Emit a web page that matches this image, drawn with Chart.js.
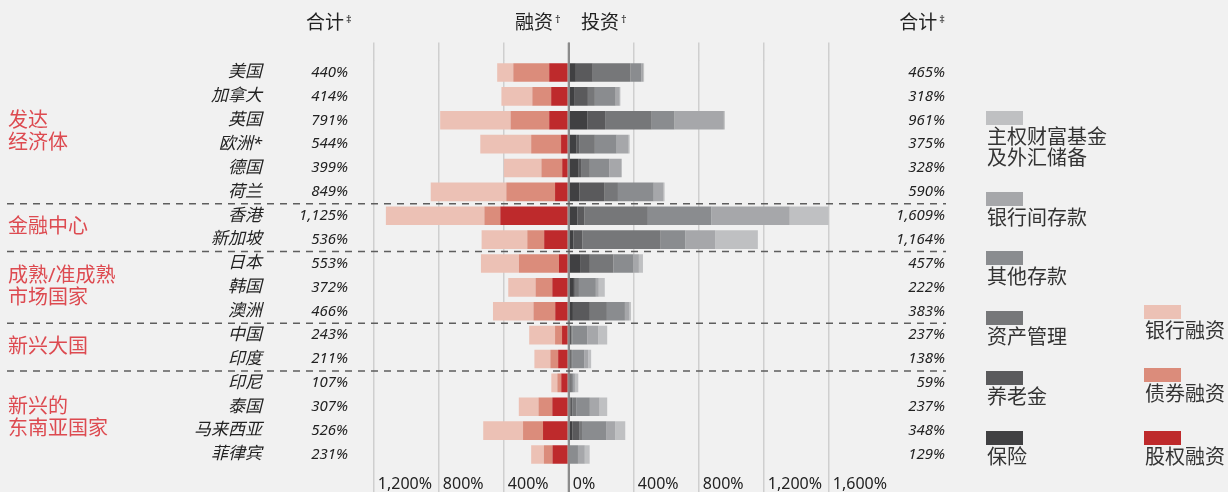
<!DOCTYPE html>
<html>
<head>
<meta charset="utf-8">
<script src="https://cdn.jsdelivr.net/npm/chart.js@4.4.1/dist/chart.umd.min.js"></script>
<style>
html,body{margin:0;padding:0;background:#F1F1F1;}
#wrap{width:1228px;height:492px;position:relative;}
</style>
</head>
<body>
<div id="wrap"><canvas id="c" width="1228" height="492"></canvas></div>
<script>
const FONT = "'Noto Sans', 'Noto Sans CJK SC', sans-serif";

// ---- data ----
const categories = ['美国','加拿大','英国','欧洲*','德国','荷兰','香港','新加坡','日本','韩国','澳洲','中国','印度','印尼','泰国','马来西亚','菲律宾'];
const financeTotals = ['440%','414%','791%','544%','399%','849%','1,125%','536%','553%','372%','466%','243%','211%','107%','307%','526%','231%'];
const investTotals = ['465%','318%','961%','375%','328%','590%','1,609%','1,164%','457%','222%','383%','237%','138%','59%','237%','348%','129%'];

// financing (drawn to the left)
const equityFin = [120,108,120,47,40,84,421,151,60,101,83,41,65,46,101,158,100];
const bondFin   = [221,116,238,184,128,300,98,104,246,103,134,43,48,24,85,123,53];
const bankFin   = [99,190,433,313,231,465,606,281,234,168,249,159,98,37,121,245,78];

// investment (drawn to the right)
const insurance     = [44,33,114,46,58,65,53,29,70,32,26,8,12,5,10,22,0];
const pension       = [104,85,110,18,18,153,43,55,60,6,104,8,3,0,12,42,0];
const assetMgmt     = [231,43,287,97,54,85,391,482,145,25,105,6,6,15,24,18,0];
const otherDeposits = [67,128,140,134,120,220,391,152,121,104,111,92,74,11,84,151,57];
const interbank     = [12,25,304,74,72,61,482,183,36,18,25,68,25,11,60,54,42];
const sovereign     = [6,4,6,6,6,6,249,263,25,37,12,55,18,17,47,61,30];

const xTicks = [-1200,-800,-400,0,400,800,1200,1600];

const groupLabels = [['发达','经济体'],['金融中心'],['成熟/准成熟','市场国家'],['新兴大国'],['新兴的','东南亚国家']];
const groupFirst = [0,6,8,11,13];
const groupLast  = [5,7,10,12,16];

// ---- styles ----
const C = {
  equity:'#BE2A2C', bond:'#DB8C7B', bank:'#ECC1B5',
  insurance:'#404042', pension:'#5A5A5C', asset:'#767779',
  other:'#8A8C8F', interbank:'#A6A7AA', sovereign:'#BFC0C2'
};
const neg = a => a.map(v => -v);
const ds = (label, data, color) => ({label, data, backgroundColor: color, borderWidth: 0,
  barPercentage: 0.782, categoryPercentage: 1, xAxisID: 'x', yAxisID: 'y'});

const datasets = [
  ds('股权融资', neg(equityFin), C.equity),
  ds('债券融资', neg(bondFin), C.bond),
  ds('银行融资', neg(bankFin), C.bank),
  ds('保险', insurance, C.insurance),
  ds('养老金', pension, C.pension),
  ds('资产管理', assetMgmt, C.asset),
  ds('其他存款', otherDeposits, C.other),
  ds('银行间存款', interbank, C.interbank),
  ds('主权财富基金及外汇储备', sovereign, C.sovereign)
];

const gridColor = c => (c.tick && c.tick.value === 0) ? '#8c8c8c' : '#cfcfcf';
const gridWidth = c => (c.tick && c.tick.value === 0) ? 2 : 1.5;
const noPad = s => { s.paddingTop = 0; s.paddingBottom = 0; s.paddingLeft = 0; s.paddingRight = 0; };

const overlay = {
  id: 'overlay',
  afterDatasetsDraw(chart) {
    const {ctx} = chart; const x = chart.scales.x;
    const px = x.getPixelForValue(0);
    ctx.save();
    ctx.strokeStyle = '#8c8c8c'; ctx.lineWidth = 2;
    ctx.beginPath(); ctx.moveTo(px, chart.scales.x2.top); ctx.lineTo(px, chart.height); ctx.stroke();
    ctx.restore();
  },
  afterDraw(chart) {
    const {ctx} = chart; const y = chart.scales.y;
    const yR = chart.scales.yTotR, yL = chart.scales.yTotL, x = chart.scales.x;
    ctx.save();
    // dashed separators
    ctx.strokeStyle = '#5e5e5e'; ctx.lineWidth = 1.5; ctx.setLineDash([7,6]);
    for (let i = 0; i < groupFirst.length - 1; i++) {
      const yy = (y.getPixelForValue(groupLast[i]) + y.getPixelForValue(groupFirst[i+1])) / 2;
      ctx.beginPath(); ctx.moveTo(7, yy); ctx.lineTo(yR.right + 1, yy); ctx.stroke();
    }
    ctx.setLineDash([]);
    // group labels
    ctx.fillStyle = '#DD4A50'; ctx.font = '20px ' + FONT;
    ctx.textAlign = 'left'; ctx.textBaseline = 'middle';
    groupLabels.forEach((lines, i) => {
      const mid = (y.getPixelForValue(groupFirst[i]) + y.getPixelForValue(groupLast[i])) / 2;
      const lh = 22;
      lines.forEach((t, k) => ctx.fillText(t, 8, mid + (k - (lines.length - 1) / 2) * lh));
    });
    // headers
    const header = (txt, sup, xRight) => {
      ctx.fillStyle = '#222'; ctx.textBaseline = 'middle';
      ctx.font = '11px ' + FONT; const sw = ctx.measureText(sup).width;
      ctx.font = '19px ' + FONT; const tw = ctx.measureText(txt).width;
      const x0 = xRight - sw - 2 - tw;
      ctx.textAlign = 'left';
      ctx.fillText(txt, x0, 24);
      ctx.font = '11px ' + FONT; ctx.fillText(sup, x0 + tw + 2, 20);
    };
    header('合计', '‡', yL.right - 22);
    header('融资', '†', x.getPixelForValue(0) - 8);
    header('投资', '†', x.getPixelForValue(0) + 58);
    header('合计', '‡', yR.right);
    // legend
    const byLabel = {}; chart.data.datasets.forEach(d => byLabel[d.label] = d.backgroundColor);
    const legendGray = [
      {label:'主权财富基金及外汇储备', lines:['主权财富基金','及外汇储备'], top:111},
      {label:'银行间存款', lines:['银行间存款'], top:192},
      {label:'其他存款', lines:['其他存款'], top:251},
      {label:'资产管理', lines:['资产管理'], top:311},
      {label:'养老金', lines:['养老金'], top:371},
      {label:'保险', lines:['保险'], top:431}
    ];
    const legendRed = [
      {label:'银行融资', lines:['银行融资'], top:305},
      {label:'债券融资', lines:['债券融资'], top:368},
      {label:'股权融资', lines:['股权融资'], top:431}
    ];
    const drawLeg = (items, lx) => items.forEach(it => {
      ctx.fillStyle = byLabel[it.label]; ctx.fillRect(lx, it.top, 37, 14);
      ctx.fillStyle = '#333'; ctx.font = '20px ' + FONT; ctx.textAlign = 'left'; ctx.textBaseline = 'middle';
      it.lines.forEach((t, k) => ctx.fillText(t, lx + 1, it.top + 27 + k * 21));
    });
    drawLeg(legendGray, 986);
    drawLeg(legendRed, 1144);
    ctx.restore();
  }
};

new Chart(document.getElementById('c'), {
  type: 'bar',
  data: { labels: categories, datasets },
  plugins: [overlay],
  options: {
    indexAxis: 'y',
    responsive: false,
    animation: false,
    layout: { padding: { left: 0, right: 283, top: 42.7, bottom: 0 } },
    plugins: { legend: { display: false }, tooltip: { enabled: false } },
    scales: {
      x: {
        type: 'linear', position: 'bottom', stacked: true, min: -1200, max: 1600,
        afterBuildTicks: s => { s.ticks = xTicks.map(v => ({value: v})); },
        ticks: { align: 'start', autoSkip: false, maxRotation: 0, padding: -18, color: '#222',
          font: { family: FONT, size: 16 },
          callback: v => ' ' + Math.abs(v).toLocaleString('en-US') + '%' },
        grid: { color: gridColor, lineWidth: gridWidth, drawTicks: true, tickLength: 26 },
        border: { display: false },
        afterFit: s => { s.height = 25.56; }
      },
      x2: {
        type: 'linear', position: 'top', min: -1200, max: 1600,
        afterBuildTicks: s => { s.ticks = xTicks.map(v => ({value: v})); },
        ticks: { display: false },
        grid: { drawOnChartArea: false, drawTicks: true, tickLength: 18, color: gridColor, lineWidth: gridWidth },
        border: { display: false },
        afterFit: s => { s.height = 17.86; noPad(s); }
      },
      y: {
        type: 'category', position: 'left', stacked: true, weight: 1,
        grid: { display: false, drawTicks: false }, border: { display: false },
        ticks: { autoSkip: false, padding: 4, color: '#222', font: { family: FONT, size: 17, style: 'italic' } },
        afterFit: s => { s.width = 266; noPad(s); }
      },
      yTotL: {
        type: 'category', position: 'left', labels: financeTotals, offset: true, weight: 0,
        grid: { display: false, drawTicks: false }, border: { display: false },
        ticks: { autoSkip: false, padding: 25.7, color: '#222', font: { family: FONT, size: 15, style: 'italic' } },
        afterFit: s => { s.width = 107.7; noPad(s); }
      },
      yTotR: {
        type: 'category', position: 'right', labels: investTotals, offset: true,
        grid: { display: false, drawTicks: false }, border: { display: false },
        ticks: { autoSkip: false, crossAlign: 'far', color: '#222', font: { family: FONT, size: 15, style: 'italic' } },
        afterFit: s => { s.width = 116.3; noPad(s); }
      }
    }
  }
});
</script>
</body>
</html>
